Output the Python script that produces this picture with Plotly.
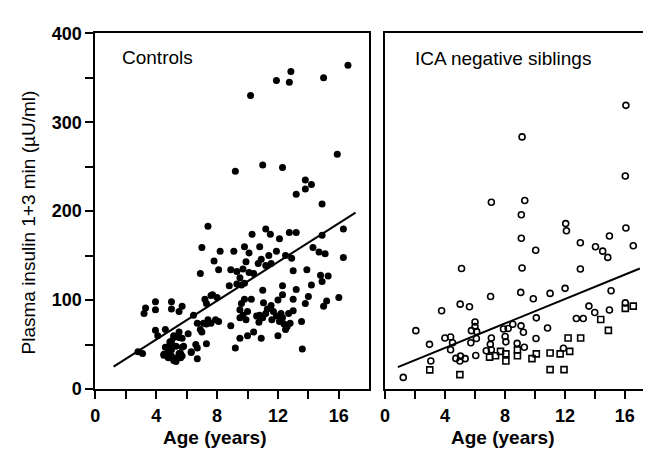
import plotly.graph_objects as go

# ---------------- data ----------------
ctrl_age = [10.2, 11.9, 12.75, 12.85, 15.0, 16.6,
            9.2, 11.0, 12.3, 15.9,
            13.8, 13.8, 14.2, 13.2, 14.9,
            7.4, 10.3, 11.2, 11.5, 12.1, 12.75, 13.2, 16.3, 14.9,
            7.0, 8.2, 9.1, 9.8, 10.1, 10.8, 11.4, 11.9, 12.5, 12.9, 14.3, 14.7, 15.1, 16.3,
            7.8, 6.9, 8.1, 8.9, 9.3, 9.7, 9.9, 10.7, 10.9, 11.2, 11.55,
            10.4, 9.5, 9.3, 9.6, 9.8, 8.8,
            13.0, 13.9, 14.8, 15.3, 14.9, 14.2, 12.3, 11.0, 13.2, 12.3, 12.0, 13.0, 14.0, 16.0, 15.2, 15.0, 13.8, 11.05, 11.55,
            9.8, 10.25, 9.6, 7.2, 7.7, 7.3,
            3.3, 3.2, 3.95, 3.95, 5.0, 5.0, 5.7, 5.5, 6.45,
            9.5, 9.7, 10.0, 9.9, 9.5, 10.8, 11.0, 11.2, 11.7, 11.9, 12.1, 12.3, 12.4, 12.5, 12.0, 12.8, 13.0, 13.55, 10.75, 10.6,
            8.9, 10.0, 10.4, 9.5, 10.9, 9.2, 13.6,
            7.4, 7.6, 7.9, 8.1, 7.3, 7.1, 6.9, 6.7, 7.0, 7.3, 6.7, 6.7, 6.3, 6.1, 5.7, 5.5, 5.15, 4.6, 3.95, 4.1,
            2.8, 3.1,
            4.6, 4.5, 4.8, 5.0, 5.15, 5.4, 5.5, 5.7, 5.3, 4.9, 4.8, 5.6, 5.3, 5.6, 4.9, 5.5, 5.15, 5.0, 4.7, 5.8, 5.7, 4.5, 5.0,
            6.6, 6.3, 12.2, 12.6, 11.6, 11.3, 12.7, 7.6, 8.0, 10.1]
ctrl_ins = [330, 347, 345, 357, 350, 364,
            245, 252, 249, 264,
            235, 225, 230, 219, 208,
            183, 174, 180, 174, 169, 176, 176, 180, 173,
            159, 155, 155, 160, 153, 160, 150, 155, 150, 147, 159, 154, 152, 148,
            144, 130, 134, 134, 132, 135, 143, 141, 146, 139, 141,
            130, 125, 118, 117, 119, 116,
            133, 134, 128, 127, 121, 117, 116, 111, 112, 106, 100, 101, 104, 103, 99, 93, 96, 97, 94,
            101, 101, 96, 101, 106, 96,
            91, 85, 98, 89, 98, 90, 93, 87, 83,
            89, 83, 87, 78, 80, 83, 80, 85, 87, 82, 76, 80, 73, 67, 60, 74, 88, 76, 75, 82,
            71, 60, 64, 57, 57, 46, 45,
            78, 74, 78, 76, 73, 74, 67, 74, 64, 51, 46, 34, 42, 62, 57, 64, 58, 67, 66, 60,
            42, 40,
            47, 38, 42, 37, 32, 35, 40, 47, 48, 53, 35, 35, 31, 40, 50, 58, 60, 53, 37, 48, 37, 39, 44,
            50, 41, 85, 70, 78, 90, 85, 105, 103, 131]

sib_circ_age = [16.07, 9.14, 16.03, 7.09, 9.32, 9.09,
                12.05, 12.1, 16.07, 14.97, 9.09, 13.03, 14.04, 14.52, 14.86, 16.56, 10.05,
                5.1, 9.14, 13.03,
                7.04, 9.05, 9.89, 11.01, 12.01, 15.08,
                3.77, 5.01, 5.63, 13.6, 13.99, 14.97, 16.03,
                2.05, 6.0, 6.0, 5.76, 6.11, 6.09, 5.72,
                10.09, 10.84, 7.9, 8.21, 8.52, 9.07, 9.23, 8.01, 8.06, 7.09, 7.02, 10.07, 8.81, 9.29,
                12.76, 13.22,
                3.99, 4.37, 4.5, 4.37, 2.96, 3.05, 4.72, 5.03, 5.34, 4.99, 6.05, 6.75, 7.09,
                1.21, 11.9]
sib_circ_ins = [319, 283.5, 239.5, 210, 212, 196,
                186, 178, 181, 172, 169.5, 164.5, 160, 155, 148, 161, 156,
                135.5, 136, 135,
                104, 108.6, 101.4, 107.5, 113.2, 110.4,
                88, 95.4, 92.5, 93.2, 86, 88.9, 96.8,
                65.6, 75.3, 70.2, 65.6, 64.5, 56.7, 52,
                80, 68.5, 67.4, 68.1, 72.8, 71, 63.8, 59.1, 53, 57.3, 50.2, 56.7, 51.3, 47,
                79.2, 79.2,
                57.3, 58.4, 52, 44.1, 50.2, 31.5, 34.4, 36.9, 34.1, 31.5, 37.6, 43, 44.1,
                13, 45.8]

sib_sq_age = [2.98, 4.99, 6.97, 7.37, 7.7, 8.06, 8.06, 8.83, 8.83, 9.8, 10.09, 11.01, 11.01,
              11.94, 11.68, 12.32, 12.21, 13.05, 14.39, 14.9, 16.03, 16.56]
sib_sq_ins = [21.5, 16.1, 35.8, 37.3, 42.3, 39.5, 31.5, 37.3, 44, 34.1, 39.5, 40.5, 21.8,
              21.8, 39.5, 42.3, 57.3, 57.3, 78.2, 65.9, 90.7, 93.2]

# regression lines (intercept, slope, age span)
ctrl_intercept, ctrl_slope, ctrl_span = 12.0, 10.9, [1.2, 17.1]
sib_intercept, sib_slope, sib_span = 18.7, 6.87, [0.85, 17.0]

x_tickvals = [0, 2, 4, 6, 8, 10, 12, 14, 16]
x_ticktext = ["0", "", "4", "", "8", "", "12", "", "16"]
y_tickvals = [0, 50, 100, 150, 200, 250, 300, 350, 400]
y_ticktext = ["0", "", "100", "", "200", "", "300", "", "400"]

# ---------------- figure ----------------
W, H = 651, 456
OFF = 8  # default page body margin that offsets the plot in the browser
FONT = "Liberation Sans, Arial, Helvetica, sans-serif"

def px_x(p):
    return (p - OFF) / W

def px_y(p):
    return (H - (p - OFF)) / H

fig = go.Figure()

fig.add_trace(go.Scatter(x=ctrl_age, y=ctrl_ins, mode="markers",
                         marker=dict(symbol="circle", size=7, color="black"),
                         xaxis="x", yaxis="y", showlegend=False))
fig.add_trace(go.Scatter(x=ctrl_span, y=[ctrl_intercept + ctrl_slope * a for a in ctrl_span],
                         mode="lines", line=dict(color="black", width=2),
                         xaxis="x", yaxis="y", showlegend=False))

fig.add_trace(go.Scatter(x=sib_circ_age, y=sib_circ_ins, mode="markers",
                         marker=dict(symbol="circle-open", size=6, color="black",
                                     line=dict(width=1.6, color="black")),
                         xaxis="x2", yaxis="y2", showlegend=False))
fig.add_trace(go.Scatter(x=sib_sq_age, y=sib_sq_ins, mode="markers",
                         marker=dict(symbol="square-open", size=6, color="black",
                                     line=dict(width=1.6, color="black")),
                         xaxis="x2", yaxis="y2", showlegend=False))
fig.add_trace(go.Scatter(x=sib_span, y=[sib_intercept + sib_slope * a for a in sib_span],
                         mode="lines", line=dict(color="black", width=2),
                         xaxis="x2", yaxis="y2", showlegend=False))

ydom = [px_y(396), px_y(24)]
tick_font = dict(family=FONT, size=18, color="black", weight="bold")
common_x = dict(tickvals=x_tickvals, ticktext=x_ticktext, ticks="outside", ticklen=8,
                tickwidth=2, tickcolor="black", showline=True, linewidth=2, linecolor="black",
                mirror=True, showgrid=False, zeroline=False, tickfont=tick_font,
                ticklabelstandoff=1)

right_px_per_year = 15.1
fig.update_layout(
    width=W, height=H,
    margin=dict(l=0, r=0, t=0, b=0),
    paper_bgcolor="white", plot_bgcolor="white",
    font=dict(family=FONT, color="black"),
    xaxis=dict(domain=[px_x(91), px_x(367)], range=[0, 18], anchor="y", **common_x),
    xaxis2=dict(domain=[px_x(383), 1.0], range=[0, (W - (383 - OFF)) / right_px_per_year],
                anchor="y2", **common_x),
    yaxis=dict(domain=ydom, range=[0, 400], anchor="x", tickvals=y_tickvals, ticktext=y_ticktext,
               ticks="outside", ticklen=8, tickwidth=2, tickcolor="black", showline=True,
               linewidth=2, linecolor="black", mirror=True, showgrid=False, zeroline=False,
               tickfont=tick_font),
    yaxis2=dict(domain=ydom, range=[0, 400], anchor="x2", showticklabels=False, ticks="",
                showline=True, linewidth=2, linecolor="black", mirror=False,
                showgrid=False, zeroline=False),
)

ann_font = dict(family=FONT, size=19, color="black")
bold_font = dict(family=FONT, size=19, color="black", weight="bold")
fig.add_annotation(text="Controls", xref="paper", yref="paper", x=px_x(116), y=px_y(49),
                   xanchor="left", yanchor="middle", showarrow=False, font=ann_font)
fig.add_annotation(text="ICA negative siblings", xref="paper", yref="paper", x=px_x(411), y=px_y(50),
                   xanchor="left", yanchor="middle", showarrow=False, font=ann_font)
fig.add_annotation(text="Age (years)", xref="paper", yref="paper", x=px_x(212), y=px_y(447),
                   xanchor="center", yanchor="middle", showarrow=False, font=bold_font)
fig.add_annotation(text="Age (years)", xref="paper", yref="paper", x=px_x(502), y=px_y(447),
                   xanchor="center", yanchor="middle", showarrow=False, font=bold_font)
fig.add_annotation(text="Plasma insulin 1+3 min (\u00b5U/ml)", xref="paper", yref="paper",
                   x=px_x(24), y=px_y(222), xanchor="center", yanchor="middle", textangle=-90,
                   showarrow=False, font=ann_font)

fig.write_html("out.html")
